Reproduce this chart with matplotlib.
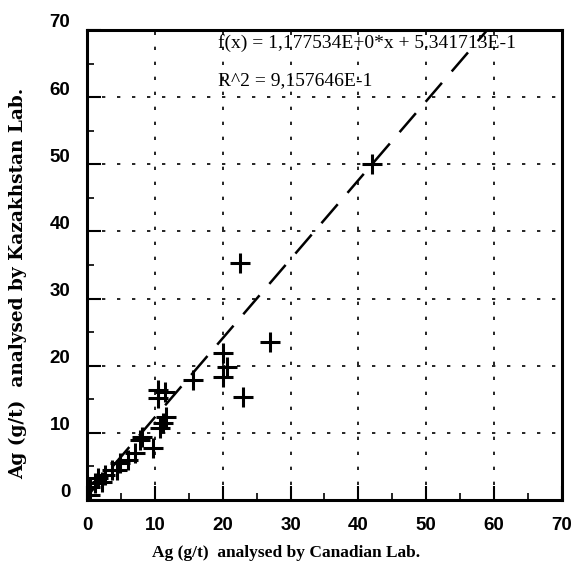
import numpy as np
import matplotlib
matplotlib.use("Agg")
import matplotlib.pyplot as plt
import matplotlib.transforms as mtransforms

# values
canadian = [42, 22.5, 27, 23, 20.6, 20, 20, 15.6, 10.5, 11.5, 10.5, 11.2, 10.8,
            11.6, 8.1, 9.8, 7.8, 7.1, 6, 4.9, 4.4, 3.7, 2.7, 2.2, 1.6, 1.2, 0.4, 0.4]
kazakh = [50, 35.3, 23.5, 15.3, 19.8, 18.3, 21.9, 17.9, 16.4, 16.1, 15.2, 11.5, 10.7,
          12.3, 9.4, 7.7, 8.9, 7.0, 6, 5.5, 4.5, 4.5, 3.7, 2.7, 3.3, 2.5, 1.9, 0.7]

slope = 1.177534
intercept = 0.5341713
r2 = 0.9157646

ticks = [0, 10, 20, 30, 40, 50, 60, 70]

fig = plt.figure(figsize=(5.81, 5.76), dpi=100)
ax = fig.add_axes([0.1497, 0.132, 0.8176, 0.816])

# regression line, dashed
lx = np.array([0, (70 - intercept) / slope])
ax.plot(lx, slope * lx + intercept, color="black", lw=1.8, dashes=(10, 6))

# data
ax.plot(canadian, kazakh, "+", color="black", ms=15, mew=2.2)

ax.set_xlim(0, 70)
ax.set_ylim(0, 70)
ax.set_xticks(ticks)
ax.set_yticks(ticks)
ax.set_xticks(np.arange(5, 70, 10), minor=True)
ax.set_yticks(np.arange(5, 70, 10), minor=True)

ax.grid(True, which="major", color="black", lw=1.2, linestyle=(0, (2, 7)))
ax.tick_params(which="major", direction="in", length=10, width=1.5, pad=12)
ax.tick_params(which="minor", direction="in", length=5, width=1.2)

for s in ax.spines.values():
    s.set_linewidth(2.2)

tick_font = dict(family="Liberation Sans", weight="bold", size=13.5)
ax.set_xticklabels([str(t) for t in ticks], **tick_font)
ax.set_yticklabels([str(t) for t in ticks], **tick_font)
# y labels sit a bit above their ticks in the scan
off = mtransforms.ScaledTranslation(0, 9 / 100, fig.dpi_scale_trans)
for lab in ax.get_yticklabels():
    lab.set_transform(lab.get_transform() + off)

ax.set_xlabel("Ag (g/t)  analysed by Canadian Lab.", family="Liberation Serif",
              weight="bold", size=12.5)
ax.xaxis.set_label_coords(0.42, -0.095)
ax.set_ylabel("Ag (g/t)  analysed by Kazakhstan Lab.", family="DejaVu Serif",
              weight="bold", size=13.3)
ax.yaxis.set_label_coords(-0.125, 0.46)

ax.text(19.3, 68, "f(x) = 1,177534E+0*x + 5.341713E-1", family="Liberation Serif",
        size=14, va="center", ha="left")
ax.text(19.3, 62.5, "R^2 = 9,157646E-1", family="Liberation Serif",
        size=14, va="center", ha="left")

fig.savefig("out.png", dpi=100)
